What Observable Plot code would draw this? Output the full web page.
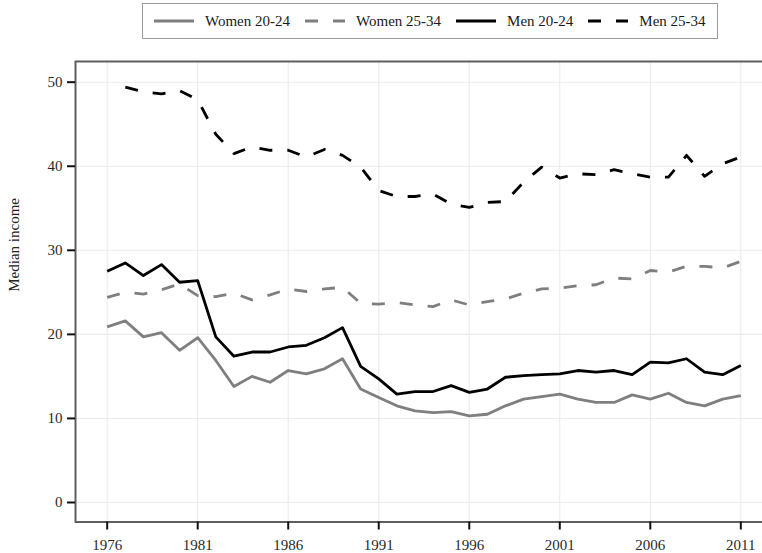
<!DOCTYPE html>
<html><head><meta charset="utf-8">
<script src="https://cdn.jsdelivr.net/npm/d3@7"></script>
<script src="https://cdn.jsdelivr.net/npm/@observablehq/plot@0.6"></script>
<style>
html,body{margin:0;padding:0;background:#fff;overflow:hidden;width:762px;height:553px}
#legend{margin:3px 0 0 142px;height:36px;border:1.5px solid #9a9a9a;display:inline-flex;align-items:center;padding:0 11px;gap:15px;font-family:"Liberation Serif";font-size:15px;color:#1a1a1a;box-sizing:border-box;background:#fff;vertical-align:top}
.item{display:flex;align-items:center;gap:11px;white-space:nowrap}
.item svg{display:block}
#top{height:42px}
#chart svg{max-width:none!important}
</style></head>
<body>
<div id="top"><div id="legend"></div></div>
<div id="chart"></div>
<script>
const years = d3.range(1976, 2012);
const xTicks = [1976, 1981, 1986, 1991, 1996, 2001, 2006, 2011];
const yTicks = [0, 10, 20, 30, 40, 50];
const women2024 = [20.9,21.6,19.7,20.2,18.1,19.6,16.9,13.8,15.0,14.3,15.7,15.3,15.9,17.1,13.5,12.5,11.5,10.9,10.7,10.8,10.3,10.5,11.5,12.3,12.6,12.9,12.3,11.9,11.9,12.8,12.3,13.0,11.9,11.5,12.3,12.7];
const women2534 = [24.4,25.0,24.8,25.3,26.0,24.6,24.5,24.9,24.1,24.7,25.4,25.1,25.4,25.6,23.7,23.6,23.8,23.5,23.3,24.1,23.5,23.9,24.2,24.9,25.4,25.5,25.8,25.9,26.7,26.6,27.6,27.4,28.1,28.1,27.9,28.7];
const men2024 = [27.5,28.5,27.0,28.3,26.2,26.4,19.7,17.4,17.9,17.9,18.5,18.7,19.6,20.8,16.2,14.7,12.9,13.2,13.2,13.9,13.1,13.5,14.9,15.1,15.2,15.3,15.7,15.5,15.7,15.2,16.7,16.6,17.1,15.5,15.2,16.3];
const men2534 = [null,49.4,48.85,48.6,49.0,47.9,43.8,41.5,42.3,41.9,41.9,41.1,42.0,41.3,39.9,37.1,36.4,36.4,36.7,35.5,35.1,35.7,35.8,38.1,39.9,38.6,39.1,39.0,39.6,39.1,38.7,38.7,41.3,38.8,40.3,41.1];

const GRAY = "#7f7f7f", BLACK = "#000";
const DASH = "13,15";
const seriesDefs = [
  {name: "Women 20-24", values: women2024, color: GRAY, dash: null},
  {name: "Women 25-34", values: women2534, color: GRAY, dash: DASH},
  {name: "Men 20-24", values: men2024, color: BLACK, dash: null},
  {name: "Men 25-34", values: men2534, color: BLACK, dash: DASH}
];

// legend
const leg = document.getElementById("legend");
for (const s of seriesDefs) {
  const it = document.createElement("div");
  it.className = "item";
  it.innerHTML = `<svg width="40" height="10"><line x1="0" y1="5" x2="40" y2="5" stroke="${s.color}" stroke-width="2.8" ${s.dash ? `stroke-dasharray="${s.dash}"` : ""}/></svg><span>${s.name}</span>`;
  leg.appendChild(it);
}

const lineMarks = seriesDefs.map(s => {
  const rows = years.map((yr, i) => ({year: yr, value: s.values[i]})).filter(d => d.value != null);
  return Plot.line(rows, {x: "year", y: "value", stroke: s.color, strokeWidth: 2.8,
    strokeDasharray: s.dash || undefined, strokeLinecap: "butt", strokeLinejoin: "round"});
});

const chart = Plot.plot({
  width: 772, height: 511,
  marginLeft: 75, marginRight: 0, marginTop: 19, marginBottom: 31.5,
  style: {fontFamily: "Liberation Serif", fontSize: "15px", background: "#fff", color: "#222"},
  x: {domain: [1974.25, 2012.75], ticks: xTicks},
  y: {domain: [-2.32, 52.46], ticks: yTicks},
  marks: [
    Plot.gridX(xTicks, {stroke: "#ebebeb", strokeOpacity: 1, strokeWidth: 1.1}),
    Plot.gridY(yTicks, {stroke: "#ebebeb", strokeOpacity: 1, strokeWidth: 1.1}),
    ...lineMarks,
    Plot.frame({stroke: "#5e5e5e", strokeWidth: 2}),
    Plot.axisX(xTicks, {tickSize: 8, tickPadding: 9, tickFormat: d => String(d), stroke: "#111", strokeWidth: 2, fill: "#2a2a2a", label: null}),
    Plot.axisY(yTicks, {tickSize: 8, tickPadding: 5, tickFormat: d => String(d), stroke: "#111", strokeWidth: 2, fill: "#2a2a2a", label: null}),
    Plot.text(["Median income"], {frameAnchor: "left", rotate: -90, dx: -61, fill: "#222", fontSize: 15})
  ]
});
document.getElementById("chart").appendChild(chart);
</script>
</body></html>
